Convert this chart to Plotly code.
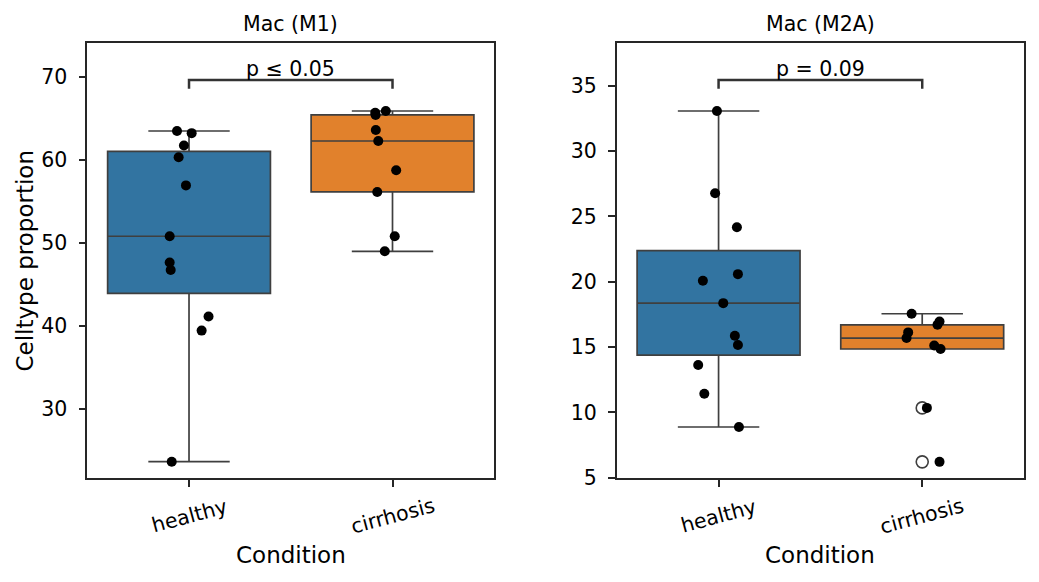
import plotly.graph_objects as go

# categories and positions on the x axis
conditions = ['healthy', 'cirrhosis']
positions = [0, 1]

# Mac (M1) values
m1_healthy = [63.46, 63.2, 61.7, 60.3, 56.9, 50.77, 47.6, 46.7, 41.1, 39.4, 23.6]
m1_healthy_jit = [-0.059, 0.013, -0.025, -0.051, -0.015, -0.095, -0.095, -0.09, 0.096, 0.062, -0.085]
m1_cirrhosis = [65.87, 65.65, 65.4, 63.58, 62.25, 58.72, 56.11, 50.77, 48.96]
m1_cirrhosis_jit = [-0.033, -0.085, -0.083, -0.082, -0.07, 0.018, -0.075, 0.011, -0.038]

# Mac (M2A) values
m2a_healthy = [33.07, 26.77, 24.17, 20.58, 20.07, 18.36, 15.86, 15.15, 13.62, 11.43, 8.88]
m2a_healthy_jit = [-0.008, -0.017, 0.09, 0.095, -0.077, 0.023, 0.08, 0.095, -0.10, -0.07, 0.10]
m2a_cirrhosis = [17.55, 16.96, 16.7, 16.12, 15.69, 15.12, 14.85, 10.34, 6.21]
m2a_cirrhosis_jit = [-0.052, 0.085, 0.075, -0.069, -0.077, 0.059, 0.09, 0.023, 0.085]

titles = ['Mac (M1)', 'Mac (M2A)']
pvalue_text = ['p ≤ 0.05', 'p = 0.09']
bracket_top = [69.6, 35.44]
bracket_leg = [68.55, 34.77]

y_ranges = [[21.6, 74.1], [4.95, 38.3]]
y_ticks = [[30, 40, 50, 60, 70], [5, 10, 15, 20, 25, 30, 35]]

box_colors = ['#3274a1', '#e1812c']
edge = '#3f3f3f'
font = 'DejaVu Sans'

panels = [
    [(m1_healthy, m1_healthy_jit), (m1_cirrhosis, m1_cirrhosis_jit)],
    [(m2a_healthy, m2a_healthy_jit), (m2a_cirrhosis, m2a_cirrhosis_jit)],
]

# page body adds an 8px offset, so domains are shifted to compensate
domains = [[0.0763, 0.468], [0.5859, 0.9779]]
ydomain = [0.1919, 0.9404]

fig = go.Figure()


def label(**kw):
    # centred text annotation (paper refs would otherwise auto-anchor)
    fig.add_annotation(showarrow=False, xanchor='center', yanchor='middle', **kw)


for p, groups in enumerate(panels):
    xa = 'x' if p == 0 else 'x2'
    ya = 'y' if p == 0 else 'y2'
    for i, (vals, jit) in enumerate(groups):
        fig.add_trace(go.Box(
            y=vals, x=[positions[i]] * len(vals), xaxis=xa, yaxis=ya,
            width=0.8, whiskerwidth=0.5, quartilemethod='inclusive',
            fillcolor=box_colors[i], line=dict(color=edge, width=1.7),
            boxpoints='outliers', jitter=0, pointpos=0,
            marker=dict(symbol='circle-open', color=edge, size=12, line=dict(width=1.6)),
            showlegend=False, hoverinfo='skip'
        ))
    for i, (vals, jit) in enumerate(groups):
        fig.add_trace(go.Scatter(
            x=[positions[i] + j for j in jit], y=vals, xaxis=xa, yaxis=ya,
            mode='markers', marker=dict(color='black', size=10),
            showlegend=False, hoverinfo='skip'
        ))
    # significance bracket
    fig.add_trace(go.Scatter(
        x=[positions[0], positions[0], positions[1], positions[1]],
        y=[bracket_leg[p], bracket_top[p], bracket_top[p], bracket_leg[p]],
        xaxis=xa, yaxis=ya, mode='lines', line=dict(color='#333333', width=2.5),
        showlegend=False, hoverinfo='skip'
    ))
    fig.add_annotation(x=0.5, y=bracket_top[p], xref=xa, yref=ya, text=pvalue_text[p],
                       showarrow=False, xanchor='center', yanchor='bottom', yshift=-3,
                       font=dict(family=font, size=20.5, color='black'))
    # rotated category labels, centred under the ticks
    for i, c in enumerate(conditions):
        label(x=positions[i], y=1 - 508 / 582, xref=xa, yref='paper', text=c, textangle=-15,
              font=dict(family=font, size=20.5, color='black'))
    mid = (domains[p][0] + domains[p][1]) / 2
    label(x=mid, y=1 - 547 / 582, xref='paper', yref='paper', text='Condition',
          font=dict(family=font, size=23, color='black'))
    label(x=mid, y=1 - 16 / 582, xref='paper', yref='paper', text=titles[p],
          font=dict(family=font, size=20.5, color='black'))

label(x=17 / 1039, y=(ydomain[0] + ydomain[1]) / 2, xref='paper', yref='paper',
      text='Celltype proportion', textangle=-90,
      font=dict(family=font, size=23, color='black'))

axis_common = dict(showline=True, mirror=True, linecolor='#262626', linewidth=1.5,
                   ticks='outside', ticklen=7, tickwidth=1.5, tickcolor='#262626',
                   showgrid=False, zeroline=False, automargin=False,
                   tickfont=dict(family=font, size=20.5, color='black'))

for p in range(2):
    sfx = '' if p == 0 else '2'
    fig.update_layout(**{
        'xaxis' + sfx: dict(axis_common, domain=domains[p], range=[-0.5, 1.5],
                            tickvals=positions, showticklabels=False, anchor='y' + sfx),
        'yaxis' + sfx: dict(axis_common, domain=ydomain, range=y_ranges[p],
                            tickvals=y_ticks[p], ticklabelstandoff=7, anchor='x' + sfx),
    })

fig.update_layout(
    width=1039, height=582,
    margin=dict(l=0, r=0, t=0, b=0),
    plot_bgcolor='white', paper_bgcolor='white',
    boxmode='overlay',
)

fig.write_html("out.html")
